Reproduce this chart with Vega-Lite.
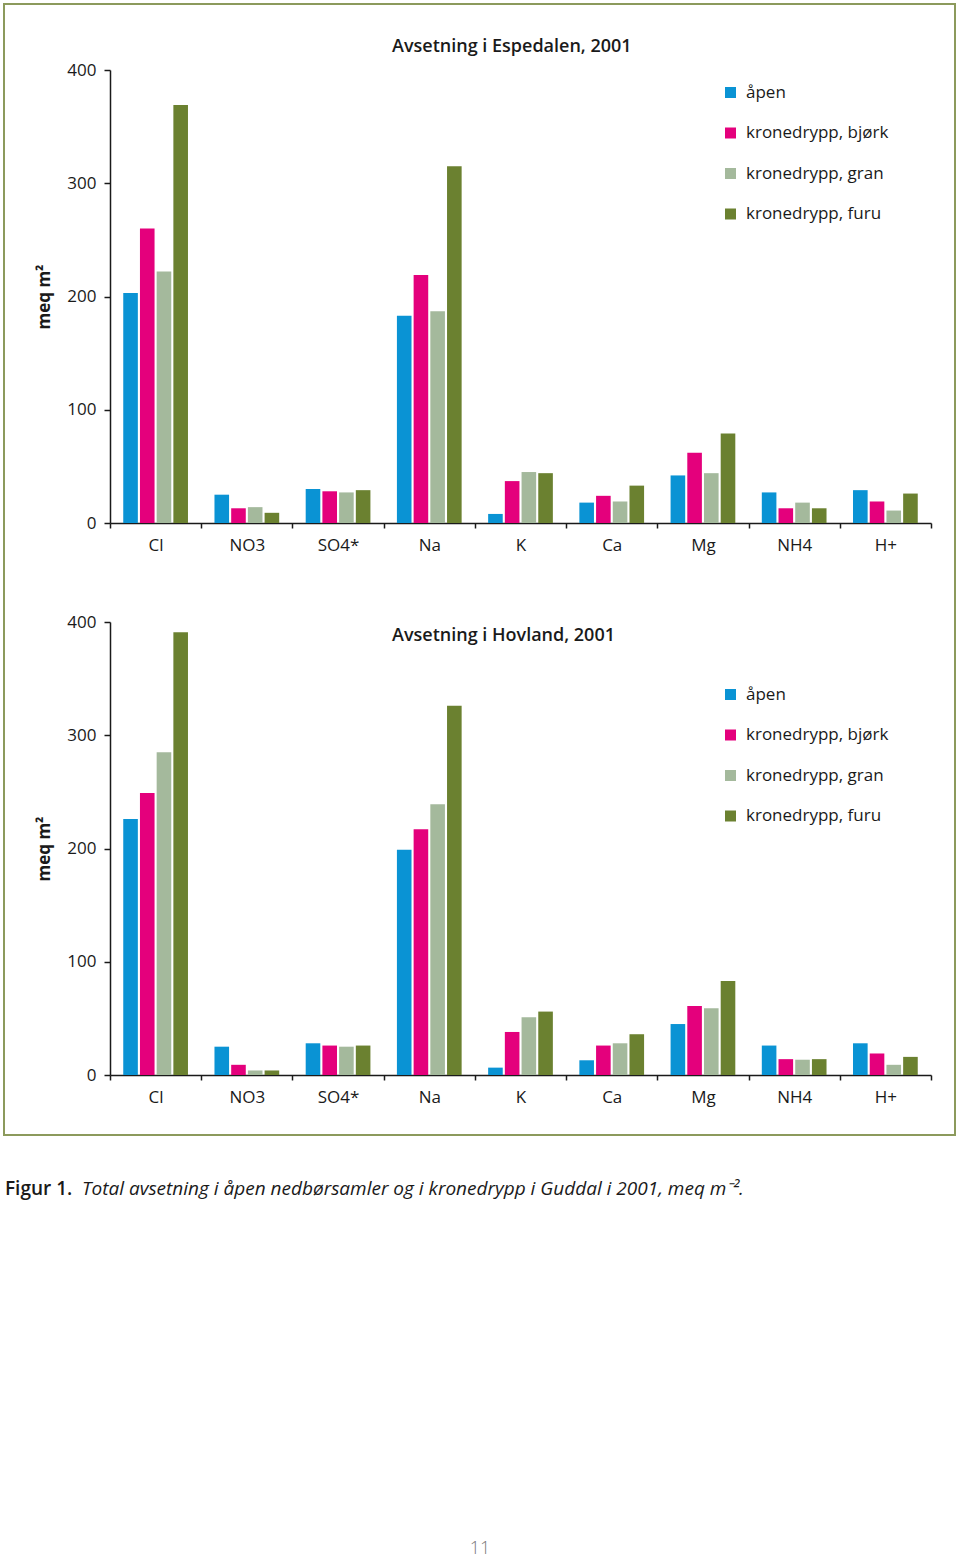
{
  "$schema": "https://vega.github.io/schema/vega-lite/v6.json",
  "background": "white",
  "padding": {"left": 3, "top": 3, "right": 0, "bottom": 0},
  "bounds": "flush",
  "align": "each",
  "spacing": 0,
  "columns": 5,
  "datasets": {
    "espedalen": [
      {"ion": "Cl", "type": "åpen", "value": 203}, {"ion": "Cl", "type": "kronedrypp, bjørk", "value": 260}, {"ion": "Cl", "type": "kronedrypp, gran", "value": 222}, {"ion": "Cl", "type": "kronedrypp, furu", "value": 369},
      {"ion": "NO3", "type": "åpen", "value": 25}, {"ion": "NO3", "type": "kronedrypp, bjørk", "value": 13}, {"ion": "NO3", "type": "kronedrypp, gran", "value": 14}, {"ion": "NO3", "type": "kronedrypp, furu", "value": 9},
      {"ion": "SO4*", "type": "åpen", "value": 30}, {"ion": "SO4*", "type": "kronedrypp, bjørk", "value": 28}, {"ion": "SO4*", "type": "kronedrypp, gran", "value": 27}, {"ion": "SO4*", "type": "kronedrypp, furu", "value": 29},
      {"ion": "Na", "type": "åpen", "value": 183}, {"ion": "Na", "type": "kronedrypp, bjørk", "value": 219}, {"ion": "Na", "type": "kronedrypp, gran", "value": 187}, {"ion": "Na", "type": "kronedrypp, furu", "value": 315},
      {"ion": "K", "type": "åpen", "value": 8}, {"ion": "K", "type": "kronedrypp, bjørk", "value": 37}, {"ion": "K", "type": "kronedrypp, gran", "value": 45}, {"ion": "K", "type": "kronedrypp, furu", "value": 44},
      {"ion": "Ca", "type": "åpen", "value": 18}, {"ion": "Ca", "type": "kronedrypp, bjørk", "value": 24}, {"ion": "Ca", "type": "kronedrypp, gran", "value": 19}, {"ion": "Ca", "type": "kronedrypp, furu", "value": 33},
      {"ion": "Mg", "type": "åpen", "value": 42}, {"ion": "Mg", "type": "kronedrypp, bjørk", "value": 62}, {"ion": "Mg", "type": "kronedrypp, gran", "value": 44}, {"ion": "Mg", "type": "kronedrypp, furu", "value": 79},
      {"ion": "NH4", "type": "åpen", "value": 27}, {"ion": "NH4", "type": "kronedrypp, bjørk", "value": 13}, {"ion": "NH4", "type": "kronedrypp, gran", "value": 18}, {"ion": "NH4", "type": "kronedrypp, furu", "value": 13},
      {"ion": "H+", "type": "åpen", "value": 29}, {"ion": "H+", "type": "kronedrypp, bjørk", "value": 19}, {"ion": "H+", "type": "kronedrypp, gran", "value": 11}, {"ion": "H+", "type": "kronedrypp, furu", "value": 26}
    ],
    "hovland": [
      {"ion": "Cl", "type": "åpen", "value": 226}, {"ion": "Cl", "type": "kronedrypp, bjørk", "value": 249}, {"ion": "Cl", "type": "kronedrypp, gran", "value": 285}, {"ion": "Cl", "type": "kronedrypp, furu", "value": 391},
      {"ion": "NO3", "type": "åpen", "value": 25}, {"ion": "NO3", "type": "kronedrypp, bjørk", "value": 9}, {"ion": "NO3", "type": "kronedrypp, gran", "value": 4}, {"ion": "NO3", "type": "kronedrypp, furu", "value": 4},
      {"ion": "SO4*", "type": "åpen", "value": 28}, {"ion": "SO4*", "type": "kronedrypp, bjørk", "value": 26}, {"ion": "SO4*", "type": "kronedrypp, gran", "value": 25}, {"ion": "SO4*", "type": "kronedrypp, furu", "value": 26},
      {"ion": "Na", "type": "åpen", "value": 199}, {"ion": "Na", "type": "kronedrypp, bjørk", "value": 217}, {"ion": "Na", "type": "kronedrypp, gran", "value": 239}, {"ion": "Na", "type": "kronedrypp, furu", "value": 326},
      {"ion": "K", "type": "åpen", "value": 6.5}, {"ion": "K", "type": "kronedrypp, bjørk", "value": 38}, {"ion": "K", "type": "kronedrypp, gran", "value": 51}, {"ion": "K", "type": "kronedrypp, furu", "value": 56},
      {"ion": "Ca", "type": "åpen", "value": 13}, {"ion": "Ca", "type": "kronedrypp, bjørk", "value": 26}, {"ion": "Ca", "type": "kronedrypp, gran", "value": 28}, {"ion": "Ca", "type": "kronedrypp, furu", "value": 36},
      {"ion": "Mg", "type": "åpen", "value": 45}, {"ion": "Mg", "type": "kronedrypp, bjørk", "value": 61}, {"ion": "Mg", "type": "kronedrypp, gran", "value": 59}, {"ion": "Mg", "type": "kronedrypp, furu", "value": 83},
      {"ion": "NH4", "type": "åpen", "value": 26}, {"ion": "NH4", "type": "kronedrypp, bjørk", "value": 14}, {"ion": "NH4", "type": "kronedrypp, gran", "value": 13.5}, {"ion": "NH4", "type": "kronedrypp, furu", "value": 14},
      {"ion": "H+", "type": "åpen", "value": 28}, {"ion": "H+", "type": "kronedrypp, bjørk", "value": 19}, {"ion": "H+", "type": "kronedrypp, gran", "value": 9}, {"ion": "H+", "type": "kronedrypp, furu", "value": 16}
    ]
  },
  "resolve": {
    "scale": {"color": "independent", "x": "independent", "y": "independent", "xOffset": "independent"},
    "legend": {"color": "independent"},
    "axis": {"x": "independent", "y": "independent"}
  },
  "concat": [
    {"width": 2, "height": 2, "data": {"values": []}, "mark": {"type": "text"}, "view": {"fill": "#8c9a5c", "stroke": null}},
    {"width": 105, "height": 2, "data": {"values": []}, "mark": {"type": "text"}, "view": {"fill": "#8c9a5c", "stroke": null}},
    {"width": 821, "height": 2, "data": {"values": []}, "mark": {"type": "text"}, "view": {"fill": "#8c9a5c", "stroke": null}},
    {"width": 23, "height": 2, "data": {"values": []}, "mark": {"type": "text"}, "view": {"fill": "#8c9a5c", "stroke": null}},
    {"width": 2, "height": 2, "data": {"values": []}, "mark": {"type": "text"}, "view": {"fill": "#8c9a5c", "stroke": null}},

    {"width": 2, "height": 65, "data": {"values": []}, "mark": {"type": "text"}, "view": {"fill": "#8c9a5c", "stroke": null}},
    {"width": 1, "height": 1, "data": {"values": []}, "mark": {"type": "text"}},
    {"width": 1, "height": 1, "data": {"values": []}, "mark": {"type": "text"}},
    {"width": 1, "height": 1, "data": {"values": []}, "mark": {"type": "text"}},
    {"width": 2, "height": 65, "data": {"values": []}, "mark": {"type": "text"}, "view": {"fill": "#8c9a5c", "stroke": null}},

    {"width": 2, "height": 453, "data": {"values": []}, "mark": {"type": "text"}, "view": {"fill": "#8c9a5c", "stroke": null}},
    {"width": 1, "height": 1, "data": {"values": []}, "mark": {"type": "text"}},
    {
      "width": 821,
      "height": 453,
      "data": {"name": "espedalen"},
      "title": {"text": "Avsetning i Espedalen, 2001", "anchor": "start", "frame": "group", "dx": 282, "offset": -9, "baseline": "alphabetic"},
      "mark": {"type": "bar"},
      "encoding": {
        "x": {"field": "ion", "type": "nominal", "sort": null,
          "scale": {"domain": ["Cl", "NO3", "SO4*", "Na", "K", "Ca", "Mg", "NH4", "H+"], "paddingInner": 0, "paddingOuter": 0},
          "axis": {"title": null, "labelAngle": 0, "tickBand": "extent", "tickSize": 5, "labelPadding": 9}},
        "xOffset": {"field": "type", "type": "nominal", "sort": null,
          "scale": {"domain": ["åpen", "kronedrypp, bjørk", "kronedrypp, gran", "kronedrypp, furu"], "paddingInner": 0.126, "paddingOuter": 0.793}},
        "y": {"field": "value", "type": "quantitative",
          "scale": {"domain": [0, 400], "nice": false},
          "axis": {"values": [0, 100, 200, 300, 400], "title": "meq m²", "tickSize": 6, "labelPadding": 8, "titlePadding": 13}},
        "color": {"field": "type", "type": "nominal", "sort": null,
          "scale": {"domain": ["åpen", "kronedrypp, bjørk", "kronedrypp, gran", "kronedrypp, furu"], "range": ["#0a93d4", "#e4007c", "#a4b99c", "#6b8130"]},
          "legend": {"orient": "none", "legendX": 612, "legendY": 14}}
      }
    },
    {"width": 1, "height": 1, "data": {"values": []}, "mark": {"type": "text"}},
    {"width": 2, "height": 453, "data": {"values": []}, "mark": {"type": "text"}, "view": {"fill": "#8c9a5c", "stroke": null}},

    {"width": 2, "height": 99, "data": {"values": []}, "mark": {"type": "text"}, "view": {"fill": "#8c9a5c", "stroke": null}},
    {"width": 1, "height": 1, "data": {"values": []}, "mark": {"type": "text"}},
    {"width": 1, "height": 1, "data": {"values": []}, "mark": {"type": "text"}},
    {"width": 1, "height": 1, "data": {"values": []}, "mark": {"type": "text"}},
    {"width": 2, "height": 99, "data": {"values": []}, "mark": {"type": "text"}, "view": {"fill": "#8c9a5c", "stroke": null}},

    {"width": 2, "height": 453, "data": {"values": []}, "mark": {"type": "text"}, "view": {"fill": "#8c9a5c", "stroke": null}},
    {"width": 1, "height": 1, "data": {"values": []}, "mark": {"type": "text"}},
    {
      "width": 821,
      "height": 453,
      "data": {"name": "hovland"},
      "title": {"text": "Avsetning i Hovland, 2001", "anchor": "start", "frame": "group", "dx": 282, "offset": -46, "baseline": "alphabetic"},
      "mark": {"type": "bar"},
      "encoding": {
        "x": {"field": "ion", "type": "nominal", "sort": null,
          "scale": {"domain": ["Cl", "NO3", "SO4*", "Na", "K", "Ca", "Mg", "NH4", "H+"], "paddingInner": 0, "paddingOuter": 0},
          "axis": {"title": null, "labelAngle": 0, "tickBand": "extent", "tickSize": 5, "labelPadding": 9}},
        "xOffset": {"field": "type", "type": "nominal", "sort": null,
          "scale": {"domain": ["åpen", "kronedrypp, bjørk", "kronedrypp, gran", "kronedrypp, furu"], "paddingInner": 0.126, "paddingOuter": 0.793}},
        "y": {"field": "value", "type": "quantitative",
          "scale": {"domain": [0, 400], "nice": false},
          "axis": {"values": [0, 100, 200, 300, 400], "title": "meq m²", "tickSize": 6, "labelPadding": 8, "titlePadding": 13}},
        "color": {"field": "type", "type": "nominal", "sort": null,
          "scale": {"domain": ["åpen", "kronedrypp, bjørk", "kronedrypp, gran", "kronedrypp, furu"], "range": ["#0a93d4", "#e4007c", "#a4b99c", "#6b8130"]},
          "legend": {"orient": "none", "legendX": 612, "legendY": 64}}
      }
    },
    {"width": 1, "height": 1, "data": {"values": []}, "mark": {"type": "text"}},
    {"width": 2, "height": 453, "data": {"values": []}, "mark": {"type": "text"}, "view": {"fill": "#8c9a5c", "stroke": null}},

    {"width": 2, "height": 59, "data": {"values": []}, "mark": {"type": "text"}, "view": {"fill": "#8c9a5c", "stroke": null}},
    {"width": 1, "height": 1, "data": {"values": []}, "mark": {"type": "text"}},
    {"width": 1, "height": 1, "data": {"values": []}, "mark": {"type": "text"}},
    {"width": 1, "height": 1, "data": {"values": []}, "mark": {"type": "text"}},
    {"width": 2, "height": 59, "data": {"values": []}, "mark": {"type": "text"}, "view": {"fill": "#8c9a5c", "stroke": null}},

    {"width": 2, "height": 2, "data": {"values": []}, "mark": {"type": "text"}, "view": {"fill": "#8c9a5c", "stroke": null}},
    {"width": 105, "height": 2, "data": {"values": []}, "mark": {"type": "text"}, "view": {"fill": "#8c9a5c", "stroke": null}},
    {"width": 821, "height": 2, "data": {"values": []}, "mark": {"type": "text"}, "view": {"fill": "#8c9a5c", "stroke": null}},
    {"width": 23, "height": 2, "data": {"values": []}, "mark": {"type": "text"}, "view": {"fill": "#8c9a5c", "stroke": null}},
    {"width": 2, "height": 2, "data": {"values": []}, "mark": {"type": "text"}, "view": {"fill": "#8c9a5c", "stroke": null}},

    {"width": 1, "height": 1, "data": {"values": []}, "mark": {"type": "text"}},
    {"width": 1, "height": 1, "data": {"values": []}, "mark": {"type": "text"}},
    {
      "width": 821,
      "height": 118,
      "data": {"values": [{"caption": "Figur 1.", "body": "Total avsetning i åpen nedbørsamler og i kronedrypp i Guddal i 2001, meq m⁻².", "page": "11"}]},
      "layer": [
        {"mark": {"type": "text", "align": "left", "baseline": "alphabetic", "dx": -515.5, "fontSize": 19, "fontWeight": 600, "color": "#1a1a1a"},
         "encoding": {"text": {"field": "caption"}}},
        {"mark": {"type": "text", "align": "left", "baseline": "alphabetic", "dx": -438.5, "fontSize": 19, "fontStyle": "italic", "color": "#1a1a1a"},
         "encoding": {"text": {"field": "body"}}},
        {"mark": {"type": "text", "align": "center", "baseline": "alphabetic", "dx": -40.5, "dy": 359, "fontSize": 18, "fontWeight": 300, "color": "#7a7a7a"},
         "encoding": {"text": {"field": "page"}}}
      ]
    },
    {"width": 1, "height": 1, "data": {"values": []}, "mark": {"type": "text"}},
    {"width": 1, "height": 1, "data": {"values": []}, "mark": {"type": "text"}}
  ],
  "config": {
    "view": {"stroke": null},
    "font": "Open Sans",
    "text": {"font": "Open Sans"},
    "bar": {"stroke": null},
    "axis": {
      "labelFont": "Open Sans", "titleFont": "Open Sans", "labelFontSize": 17, "labelColor": "#1a1a1a",
      "titleFontSize": 17, "titleFontWeight": "bold", "titleColor": "#1a1a1a",
      "domainColor": "#1a1a1a", "tickColor": "#1a1a1a", "domainWidth": 1.5, "tickWidth": 1.5, "grid": false
    },
    "legend": {
      "title": null, "labelFont": "Open Sans", "labelFontSize": 17, "labelColor": "#1a1a1a",
      "symbolType": "square", "symbolSize": 121, "symbolStrokeWidth": 0, "labelOffset": 7,
      "rowPadding": 22.5, "padding": 0, "labelLimit": 300
    },
    "title": {"font": "Open Sans", "fontSize": 18, "fontWeight": 600, "color": "#1a1a1a"}
  }
}
